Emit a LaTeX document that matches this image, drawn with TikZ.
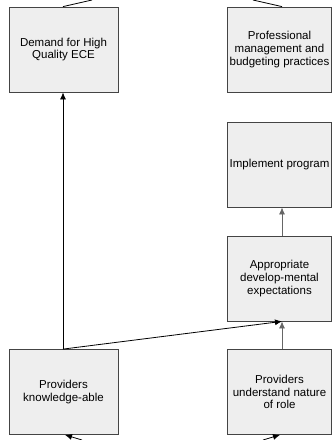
\documentclass[tikz,border=0pt]{standalone}
\usepackage{fontspec}
\setmainfont{Liberation Sans}
\usepackage{tikz}
\usetikzlibrary{arrows.meta}
\definecolor{boxfill}{HTML}{EEEEEE}
\definecolor{boxline}{HTML}{444444}

\begin{document}
\begin{tikzpicture}[x=1pt,y=-1pt,line width=0.8pt,
    goalbox/.style={draw=boxline,fill=boxfill,minimum height=85pt,align=center,
      inner sep=2pt,font=\fontsize{11.5}{12.8}\selectfont},
    leftbox/.style={goalbox,minimum width=109pt},
    rightbox/.style={goalbox,minimum width=104pt},
    link/.style={-{Latex[length=7pt,width=6pt]},black}]
            \useasboundingbox (0,0) rectangle (332,440);
          \node [leftbox] (demand) at (63.5,49.5) {Demand for High\\Quality ECE};
          \node [rightbox] (prof) at (279.5,49.5) {Professional\\management and\\budgeting practices};
          \node [rightbox] (impl) at (279.5,164.5) {Implement program};
          \node [rightbox] (appr) at (279.5,278.5) {Appropriate\\develop-mental\\expectations};
          \node [leftbox] (know) at (63.5,392) {Providers\\knowledge-able};
          \node [rightbox] (role) at (279.5,392) {Providers\\understand nature\\of role};
          \coordinate (topl) at (92,0);
          \coordinate (topr) at (253,0);
          \coordinate (botl) at (82,440);
          \coordinate (botr) at (263,440);
            \draw [black] ([xshift=-0.5pt]demand.north) -- (topl);
            \draw [black] (topr) -- ([xshift=2.5pt]prof.north);
            \draw [link] ([xshift=-0.5pt]know.north) -- ([xshift=-0.5pt]demand.south);
            \draw [link] ([xshift=-0.5pt]know.north) -- ([xshift=2.5pt]appr.south);
            \draw [link,black!60] ([xshift=2.5pt]role.north) -- ([xshift=2.5pt]appr.south);
            \draw [link,black!60] ([xshift=2.5pt]appr.north) -- ([xshift=2.5pt]impl.south);
            \draw [link] (botl) -- ([xshift=1.5pt]know.south);
            \draw [link] (botr) -- ([xshift=0.5pt]role.south);
        \end{tikzpicture}
\end{document}
